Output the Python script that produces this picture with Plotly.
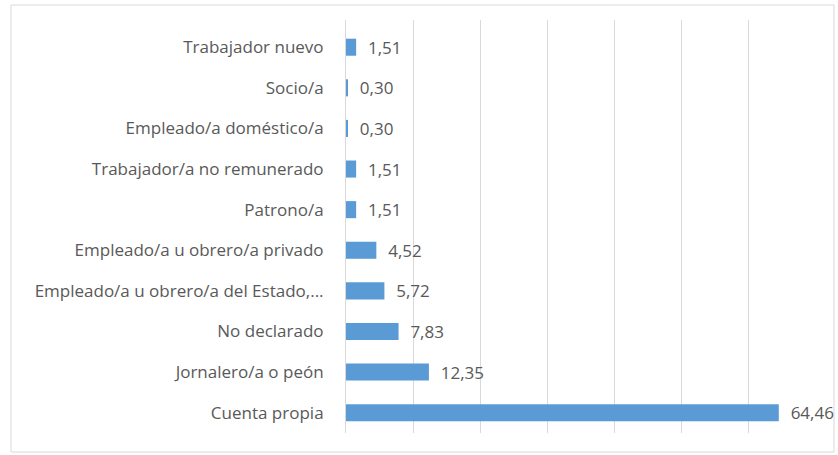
import plotly.graph_objects as go

categories = [
    "Cuenta propia",
    "Jornalero/a o peón",
    "No declarado",
    "Empleado/a u obrero/a del Estado,...",
    "Empleado/a u obrero/a privado",
    "Patrono/a",
    "Trabajador/a no remunerado",
    "Empleado/a doméstico/a",
    "Socio/a",
    "Trabajador nuevo",
]
values = [64.46, 12.35, 7.83, 5.72, 4.52, 1.51, 1.51, 0.30, 0.30, 1.51]
labels = ["  " + f"{v:.2f}".replace(".", ",") for v in values]

W, H = 838, 455
L, R, T, B = 346, 22, 20, 22
grey = "#595959"
fsize = 17

fig = go.Figure(go.Bar(
    y=categories, x=values, orientation="h",
    marker=dict(color="#5b9bd5", line=dict(width=0)),
    text=labels, textposition="outside", cliponaxis=False,
    constraintext="none",
    textfont=dict(family="Open Sans", size=fsize, color=grey),
    hoverinfo="skip",
))

pw, ph = W - L - R, H - T - B
fig.add_shape(type="rect", xref="paper", yref="paper",
              x0=(11 - L) / pw, x1=(834 - L) / pw,
              y0=-(452 - (H - B)) / ph, y1=1 + (T - 5) / ph,
              line=dict(color="#d9d9d9", width=1), layer="below")

fig.update_layout(
    width=W, height=H,
    margin=dict(l=L, r=R, t=T, b=B, autoexpand=False),
    paper_bgcolor="white", plot_bgcolor="white",
    bargap=0.58, showlegend=False,
    font=dict(family="Open Sans", size=fsize, color=grey),
    xaxis=dict(range=[0, 70], dtick=10, showgrid=True, gridcolor="#d9d9d9",
               gridwidth=1, showticklabels=False, zeroline=False,
               showline=False, fixedrange=True),
    yaxis=dict(range=[-0.5, 9.67], showgrid=False, showline=True,
               linecolor="#d9d9d9", ticks="", ticklabelstandoff=18,
               automargin=False,
               tickfont=dict(family="Open Sans", size=fsize, color=grey),
               fixedrange=True),
)

fig.write_html("out.html",
               config={"displayModeBar": False, "staticPlot": True},
               post_script="document.body.style.margin='0';document.body.style.overflow='hidden';")
